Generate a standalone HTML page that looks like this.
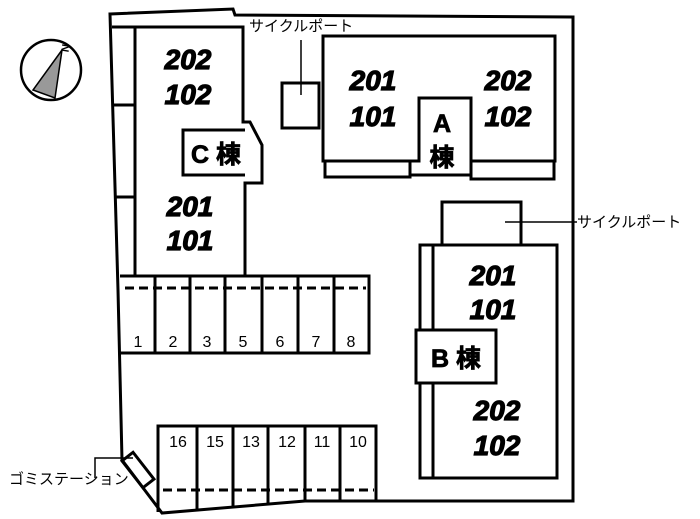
<!DOCTYPE html>
<html><head><meta charset="utf-8"><style>
html,body{margin:0;padding:0;background:#fff;width:700px;height:519px;overflow:hidden}
svg{display:block}
.n{font-family:"Liberation Sans",sans-serif;font-weight:bold;font-style:italic;font-size:28px;fill:#000;stroke:#000;stroke-width:1.2;text-anchor:middle}
.k{font-family:"Liberation Sans","Noto Sans CJK JP",sans-serif;font-weight:bold;font-size:25px;fill:#000;stroke:#000;stroke-width:0.8;text-anchor:middle}
.p{font-family:"Liberation Sans",sans-serif;font-size:16px;fill:#000;text-anchor:middle}
.j{font-family:"Liberation Sans","Noto Sans CJK JP",sans-serif;font-size:15px;fill:#000}
</style></head><body>
<svg width="700" height="519" viewBox="0 0 700 519" xmlns="http://www.w3.org/2000/svg">
<g fill="none" stroke="#000" stroke-width="3">
<path d="M110,14 L233,9 L235,15 L573,17 L573,501 L305,501 L162,513 L122,460 L118,290 Z"/>
<path d="M112,27 H135 V275"/>
<line x1="114" y1="105" x2="135" y2="105"/>
<line x1="116" y1="197" x2="135" y2="197"/>
<path d="M135,27 H243 V122 H250 L262,145 V183 H245 V275"/>
<path d="M245,130 H183 V175 H245"/>
<rect x="282" y="83" width="37" height="45"/>
<path d="M323,36 H555 V161 H471 V98 H419 V161 H323 Z"/>
<path d="M325,161 V177 H410 V161"/>
<path d="M410,161 V175 H471"/>
<path d="M471,161 V179 H554 V161"/>
<path d="M442,245 V202 H521 V245"/>
<path d="M420,330 V245 H557 V478 H433 V383"/>
<path d="M433,245 V330"/>
<path d="M420,383 V478 H433"/>
<path d="M433,330 H416 V383 H496 V330 H433"/>
<path d="M120,276 H369 V353 H120"/>
<line x1="155" y1="276" x2="155" y2="353"/>
<line x1="190" y1="276" x2="190" y2="353"/>
<line x1="225" y1="276" x2="225" y2="353"/>
<line x1="262" y1="276" x2="262" y2="353"/>
<line x1="298" y1="276" x2="298" y2="353"/>
<line x1="334" y1="276" x2="334" y2="353"/>
<path d="M158,512 V426 H376 V501"/>
<line x1="197" y1="426" x2="197" y2="510"/>
<line x1="233" y1="426" x2="233" y2="507"/>
<line x1="268" y1="426" x2="268" y2="504"/>
<line x1="305" y1="426" x2="305" y2="501"/>
<line x1="340" y1="426" x2="340" y2="501"/>
<rect x="-7" y="-17" width="14" height="34" transform="translate(138,470) rotate(-38)"/>
</g>
<g stroke="#000" stroke-width="3" stroke-dasharray="9,5" fill="none">
<line x1="125" y1="288" x2="366" y2="288"/>
<line x1="163" y1="490" x2="374" y2="490"/>
</g>
<g stroke="#000" stroke-width="1.5" fill="none">
<line x1="301" y1="40" x2="301" y2="95"/>
<line x1="505" y1="222" x2="577" y2="222"/>
<path d="M95,478 V458 H133"/>
</g>
<circle cx="51" cy="70" r="30" fill="none" stroke="#000" stroke-width="2.5"/>
<path d="M62,50 L55,98 L33,90 Z" fill="#999" stroke="#000" stroke-width="1.5"/>
<text x="63" y="49" font-family="Liberation Sans" font-size="11" font-weight="bold" transform="rotate(100 65 46)">N</text>
<text class="j" x="249" y="31">サイクルポート</text>
<text class="j" x="577" y="227">サイクルポート</text>
<text class="j" x="9" y="484">ゴミステーション</text>
<text class="n" x="188" y="69">202</text>
<text class="n" x="188" y="104">102</text>
<text class="n" x="190" y="216">201</text>
<text class="n" x="190" y="250">101</text>
<text class="k" x="216" y="163">C 棟</text>
<text class="n" x="373" y="90">201</text>
<text class="n" x="373" y="126">101</text>
<text class="n" x="508" y="90">202</text>
<text class="n" x="508" y="126">102</text>
<text class="k" x="442" y="132">A</text>
<text class="k" x="442" y="166">棟</text>
<text class="n" x="493" y="285">201</text>
<text class="n" x="493" y="319">101</text>
<text class="k" x="456" y="367">B 棟</text>
<text class="n" x="497" y="420">202</text>
<text class="n" x="497" y="455">102</text>
<g class="p">
<text x="138" y="347">1</text><text x="173" y="347">2</text><text x="207" y="347">3</text><text x="243" y="347">5</text><text x="280" y="347">6</text><text x="316" y="347">7</text><text x="351" y="347">8</text>
<text x="178" y="447">16</text><text x="215" y="447">15</text><text x="251" y="447">13</text><text x="287" y="447">12</text><text x="322" y="447">11</text><text x="358" y="447">10</text>
</g>
</svg>
</body></html>
